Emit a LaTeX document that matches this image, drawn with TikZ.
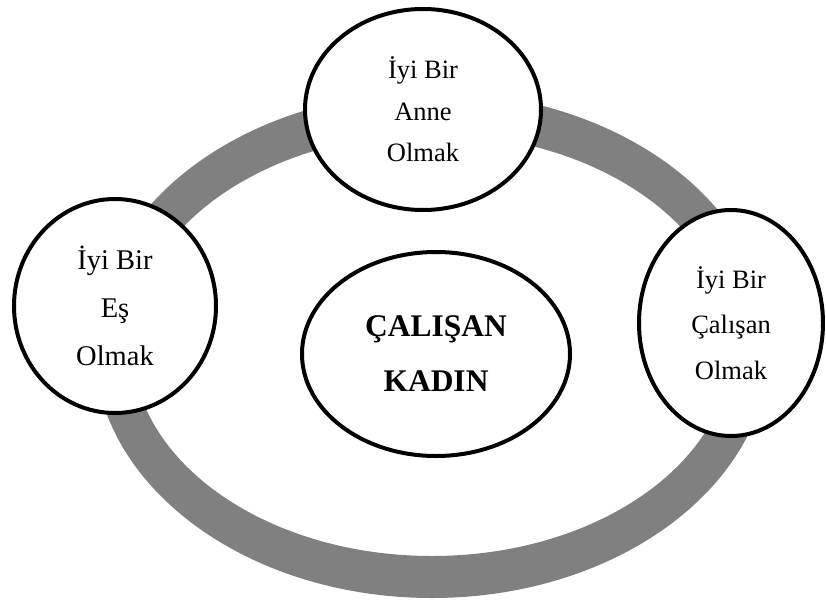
\documentclass[tikz,border=0pt]{standalone}
\usepackage{fontspec}
\setmainfont{Liberation Serif}
\usetikzlibrary{shapes.geometric}
\definecolor{ringgray}{HTML}{808080}
\tikzset{
  roleoval/.style={ellipse, draw=black, line width=4pt, fill=white, inner sep=0pt, align=center},
}
\begin{document}
\begin{tikzpicture}[x=1pt,y=-1pt]
\useasboundingbox (0,0) rectangle (826,599);
% gray ring
\fill[ringgray, even odd rule] (432,345) ellipse [x radius=338, y radius=253]
  (432,345) ellipse [x radius=300, y radius=211];
% ovals
\node[roleoval, minimum width=236pt, minimum height=201pt,
      font=\fontsize{26.5}{41.5}\selectfont] (anne) at (423,109.5) {İyi Bir\\Anne\\Olmak};
\node[roleoval, minimum width=202pt, minimum height=214pt,
      font=\fontsize{28.5}{48}\selectfont] (es) at (115,306) {İyi Bir\\Eş\\Olmak};
\node[roleoval, minimum width=184pt, minimum height=226pt,
      font=\fontsize{26.5}{45.5}\selectfont] (calisan) at (731,323) {İyi Bir\\Çalışan\\Olmak};
\node[roleoval, minimum width=268pt, minimum height=204pt,
      font=\bfseries\fontsize{31.5}{55}\selectfont] (kadin) at (436,354) {ÇALIŞAN\\KADIN};
\end{tikzpicture}
\end{document}
